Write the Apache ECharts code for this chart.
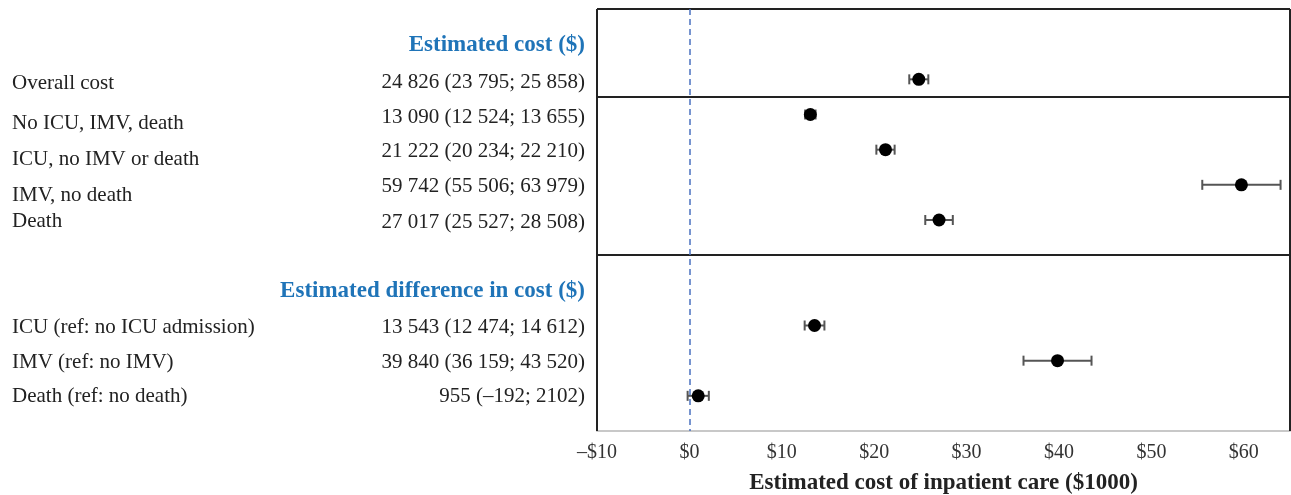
<!DOCTYPE html>
<html>
<head>
<meta charset="utf-8">
<script src="https://cdn.jsdelivr.net/npm/echarts@6/dist/echarts.min.js"></script>
<style>
  html, body { margin: 0; padding: 0; background: #fff; }
  #chart { width: 1291px; height: 495px; }
</style>
</head>
<body>
<div id="chart"></div>
<script>
// rows of the forest plot
var rowLabels = ['Overall cost', 'No ICU, IMV, death', 'ICU, no IMV or death', 'IMV, no death', 'Death',
                 'ICU (ref: no ICU admission)', 'IMV (ref: no IMV)', 'Death (ref: no death)'];
var rowText = ['24 826 (23 795; 25 858)', '13 090 (12 524; 13 655)', '21 222 (20 234; 22 210)',
               '59 742 (55 506; 63 979)', '27 017 (25 527; 28 508)',
               '13 543 (12 474; 14 612)', '39 840 (36 159; 43 520)', '955 (\u2013192; 2102)'];
// estimates and 95% CI in $1000
var estimate = [24.826, 13.090, 21.222, 59.742, 27.017, 13.543, 39.840, 0.955];
var lower    = [23.795, 12.524, 20.234, 55.506, 25.527, 12.474, 36.159, -0.192];
var upper    = [25.858, 13.655, 22.210, 63.979, 28.508, 14.612, 43.520, 2.102];
// vertical slot of each row (0 = top row)
var rowPos = [0, 1, 2, 3, 4, 7, 8, 9];
var headers = ['Estimated cost ($)', 'Estimated difference in cost ($)'];
var headerPos = [-1, 6];
var dividers = [0.5, 5];
var xTicks = [-10, 0, 10, 20, 30, 40, 50, 60];

// label offsets in the original (labels sit a bit lower than the values)
var labelNudge = [4, 9, 10, 11, 1, 2, 2, 1];
var valueNudge = [3, 3, 2, 2, 2, 2, 2, 1];

var serif = '"Liberation Serif", "DejaVu Serif", serif';
var txtColor = '#222';
var blue = '#1f74b8';

var chart = echarts.init(document.getElementById('chart'));

var ciData = rowPos.map(function (p, i) { return [lower[i], upper[i], p]; });
var dotData = rowPos.map(function (p, i) { return [estimate[i], p]; });
var textData = rowPos.map(function (p, i) { return [0, p, i]; });
var headData = headerPos.map(function (p, i) { return [0, p, i]; });

chart.setOption({
  animation: false,
  grid: { left: 597, right: 1, top: 9, bottom: 64, containLabel: false, outerBoundsMode: 'none' },
  xAxis: {
    type: 'value',
    min: -10,
    max: 65,
    interval: 10,
    axisLine: { show: true, onZero: false, lineStyle: { color: '#c8c8c8', width: 2 } },
    axisTick: { show: false },
    splitLine: { show: false },
    axisLabel: {
      showMaxLabel: false,
      margin: 12,
      color: '#333',
      fontFamily: serif,
      fontSize: 20,
      formatter: function (v) {
        if (xTicks.indexOf(v) < 0) return '';
        return v < 0 ? '\u2013$' + Math.abs(v) : '$' + v;
      }
    },
    name: 'Estimated cost of inpatient care ($1000)',
    nameLocation: 'middle',
    nameGap: 41,
    nameTextStyle: { color: '#222', fontFamily: serif, fontSize: 23, fontWeight: 'bold' }
  },
  yAxis: {
    type: 'value',
    min: -2,
    max: 10,
    inverse: true,
    show: false
  },
  series: [
    {
      // frame lines, dividers and reference line
      type: 'line',
      data: [],
      markLine: {
        silent: true,
        symbol: 'none',
        label: { show: false },
        data: [
          { yAxis: -2, lineStyle: { color: '#222', width: 2, type: 'solid' } },
          { yAxis: dividers[0], lineStyle: { color: '#222', width: 2, type: 'solid' } },
          { yAxis: dividers[1], lineStyle: { color: '#222', width: 2, type: 'solid' } },
          { xAxis: -10, lineStyle: { color: '#222', width: 2, type: 'solid' } },
          { xAxis: 65, lineStyle: { color: '#222', width: 2, type: 'solid' } },
          { xAxis: 0, lineStyle: { color: '#4a72c0', width: 1.5, type: [6, 4] } }
        ]
      }
    },
    {
      type: 'custom',
      data: ciData,
      renderItem: function (params, api) {
        var a = api.coord([api.value(0), api.value(2)]);
        var b = api.coord([api.value(1), api.value(2)]);
        var h = 5;
        var st = { stroke: '#555', lineWidth: 2 };
        return {
          type: 'group',
          children: [
            { type: 'line', shape: { x1: a[0], y1: a[1], x2: b[0], y2: b[1] }, style: st },
            { type: 'line', shape: { x1: a[0], y1: a[1] - h, x2: a[0], y2: a[1] + h }, style: st },
            { type: 'line', shape: { x1: b[0], y1: b[1] - h, x2: b[0], y2: b[1] + h }, style: st }
          ]
        };
      },
      z: 3
    },
    {
      type: 'scatter',
      data: dotData,
      symbol: 'circle',
      symbolSize: 13,
      itemStyle: { color: '#000', opacity: 1 },
      z: 4
    },
    {
      // row labels and values, left of the plot
      type: 'custom',
      data: textData,
      clip: false,
      renderItem: function (params, api) {
        var i = api.value(2);
        var y = api.coord([0, api.value(1)])[1];
        return {
          type: 'group',
          children: [
            { type: 'text', x: 12, y: y + labelNudge[i],
              style: { text: rowLabels[i], fill: txtColor, font: '21px ' + serif,
                       textAlign: 'left', textVerticalAlign: 'middle' } },
            { type: 'text', x: 585, y: y + valueNudge[i],
              style: { text: rowText[i], fill: txtColor, font: '21px ' + serif,
                       textAlign: 'right', textVerticalAlign: 'middle' } }
          ]
        };
      }
    },
    {
      type: 'custom',
      data: headData,
      clip: false,
      renderItem: function (params, api) {
        var i = api.value(2);
        var y = api.coord([0, api.value(1)])[1];
        return {
          type: 'text', x: 585, y: y + 1,
          style: { text: headers[i], fill: blue, font: 'bold 23px ' + serif,
                   textAlign: 'right', textVerticalAlign: 'middle' }
        };
      }
    }
  ]
});
</script>
</body>
</html>
